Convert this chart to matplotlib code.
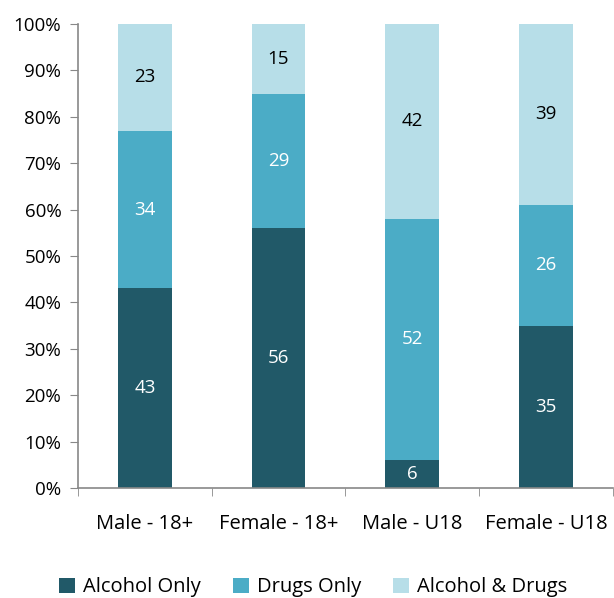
import numpy as np
import matplotlib
matplotlib.use('Agg')
import matplotlib.pyplot as plt

plt.rcParams['font.family'] = ['Open Sans', 'DejaVu Sans']

categories = ['Male - 18+', 'Female - 18+', 'Male - U18', 'Female - U18']
alcohol_only = [43, 56, 6, 35]
drugs_only = [34, 29, 52, 26]
alcohol_drugs = [23, 15, 42, 39]

series = [('Alcohol Only', alcohol_only, '#215968', 'white'),
          ('Drugs Only', drugs_only, '#4BACC6', 'white'),
          ('Alcohol & Drugs', alcohol_drugs, '#B7DEE8', 'black')]

fig = plt.figure(figsize=(6.14, 5.98), dpi=100)
ax = fig.add_axes([0.127, 0.184, 0.871, 0.776])

x = np.arange(len(categories))
bottom = np.zeros(len(categories))
for name, vals, col, tcol in series:
    vals = np.array(vals, dtype=float)
    ax.bar(x, vals, 0.4, bottom=bottom, color=col, label=name)
    for xi, b, v in zip(x, bottom, vals):
        ax.text(xi, b + v / 2, str(int(v)), ha='center', va='center',
                color=tcol, fontsize=13.5)
    bottom += vals

ax.set_xlim(-0.5, len(categories) - 0.5)
ax.set_ylim(0, 100)
ax.set_yticks(np.arange(0, 101, 10))
ax.set_yticklabels([f'{v}%' for v in range(0, 101, 10)], fontsize=13.5)
ax.set_xticks(x)
ax.set_xticklabels(categories, fontsize=14.5)
ax.tick_params(axis='x', length=0, pad=19)
ax.set_xticks(np.arange(-0.5, len(categories)), minor=True)
ax.tick_params(axis='x', which='minor', length=6, color='#888888', direction='out')
ax.tick_params(axis='y', length=6, color='#888888', direction='out', pad=6)

for s in ['top', 'right']:
    ax.spines[s].set_visible(False)
for s in ['left', 'bottom']:
    ax.spines[s].set_color('#888888')
    ax.spines[s].set_linewidth(1.2)

fig.legend(loc='center', bbox_to_anchor=(0.51, 0.018), ncol=3, frameon=False,
           fontsize=14.5, handlelength=0.8, handleheight=0.8, handletextpad=0.4,
           columnspacing=1.6)

fig.savefig('out.png', dpi=100)
